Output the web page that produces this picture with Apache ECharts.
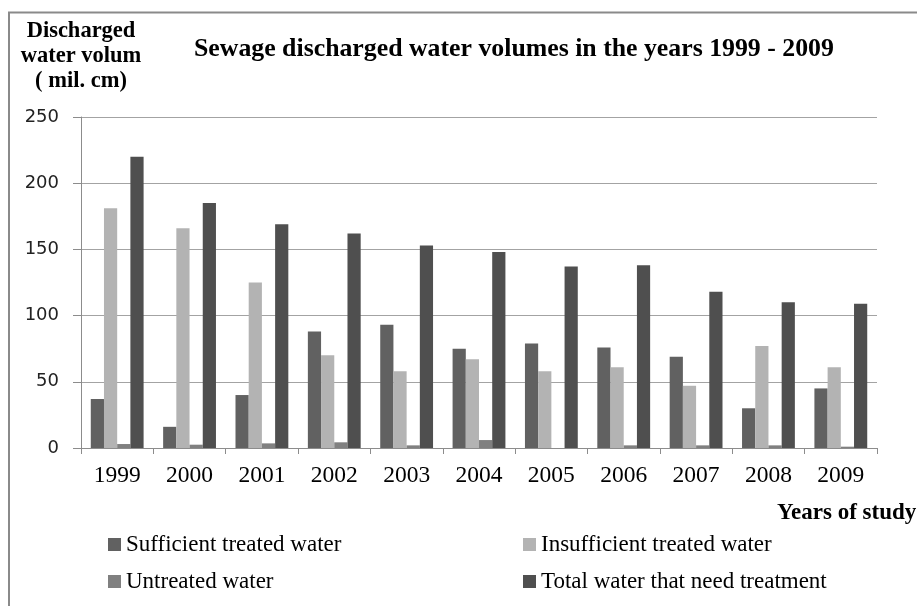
<!DOCTYPE html>
<html>
<head>
<meta charset="utf-8">
<script src="https://cdn.jsdelivr.net/npm/echarts@6/dist/echarts.min.js"></script>
<style>
  html, body { margin: 0; padding: 0; background: #fff; }
  #chart { width: 917px; height: 606px; }
</style>
</head>
<body>
<div id="chart"></div>
<script>
// Years of the study
const years = ['1999', '2000', '2001', '2002', '2003', '2004', '2005', '2006', '2007', '2008', '2009'];

// Discharged water volumes (mil. cm)
const sufficientTreated   = [37, 16, 40, 88, 93, 75, 79, 76, 69, 30, 45];
const insufficientTreated = [181, 166, 125, 70, 58, 67, 58, 61, 47, 77, 61];
const untreated           = [3, 2.5, 3.5, 4.3, 2, 6, 0, 2, 2, 2, 1];
const totalNeedTreatment  = [220, 185, 169, 162, 153, 148, 137, 138, 118, 110, 109];

// Value axis ticks
const yMin = 0, yMax = 250, yStep = 50;

const serif = '"Liberation Serif", "Times New Roman", serif';

const chart = echarts.init(document.getElementById('chart'), null, { renderer: 'canvas' });

function bar(name, data, color) {
  return {
    name: name,
    type: 'bar',
    data: data,
    barGap: '0%',
    barCategoryGap: '27%',
    itemStyle: { color: color },
    emphasis: { disabled: true },
    animation: false
  };
}

const legendText = { fontFamily: serif, fontSize: 23, color: '#000' };

chart.setOption({
  animation: false,
  backgroundColor: '#ffffff',
  title: {
    text: 'Sewage discharged water volumes in the years 1999 - 2009',
    left: 194,
    top: 36,
    padding: 0,
    textStyle: { fontFamily: serif, fontWeight: 'bold', fontSize: 25.8, color: '#000' }
  },
  graphic: [
    {
      type: 'polyline',
      silent: true,
      shape: { points: [[9, 700], [9, 12.5], [1000, 12.5]] },
      style: { stroke: '#8a8a8a', lineWidth: 2, fill: null }
    },
    {
      type: 'text',
      silent: true,
      left: 777,
      top: 502,
      style: {
        text: 'Years of study',
        font: 'bold 23px ' + serif,
        fill: '#000'
      }
    }
  ],
  legend: [
    {
      data: ['Sufficient treated water', 'Untreated water'],
      orient: 'vertical',
      left: 108,
      top: 533,
      itemGap: 14,
      itemWidth: 13,
      itemHeight: 13,
      icon: 'rect',
      padding: 0,
      selectedMode: false,
      textStyle: legendText
    },
    {
      data: ['Insufficient treated water', 'Total water that need treatment'],
      orient: 'vertical',
      left: 523,
      top: 533,
      itemGap: 14,
      itemWidth: 13,
      itemHeight: 13,
      icon: 'rect',
      padding: 0,
      selectedMode: false,
      textStyle: legendText
    }
  ],
  grid: { left: 81, right: 40, top: 117, bottom: 158, containLabel: false },
  xAxis: {
    type: 'category',
    data: years,
    axisLine: { lineStyle: { color: '#8c8c8c', width: 1 } },
    axisTick: { show: true, length: 6, lineStyle: { color: '#8c8c8c' } },
    axisLabel: { fontFamily: serif, fontSize: 23.5, color: '#000', margin: 16 },
    splitLine: { show: false }
  },
  yAxis: {
    type: 'value',
    min: yMin,
    max: yMax,
    interval: yStep,
    name: 'Discharged\nwater volum\n( mil. cm)',
    nameLocation: 'end',
    nameGap: 23,
    nameTextStyle: {
      fontFamily: serif, fontWeight: 'bold', fontSize: 22.5, lineHeight: 25,
      color: '#000', align: 'center', verticalAlign: 'bottom'
    },
    axisLine: { show: true, lineStyle: { color: '#8c8c8c', width: 1 } },
    axisTick: { show: true, length: 8, lineStyle: { color: '#8c8c8c' } },
    axisLabel: { fontFamily: '"DejaVu Sans", sans-serif', fontSize: 18, color: '#222', margin: 22 },
    splitLine: { show: true, lineStyle: { color: '#a3a3a3', width: 1 } }
  },
  series: [
    bar('Sufficient treated water', sufficientTreated, '#616161'),
    bar('Insufficient treated water', insufficientTreated, '#b3b3b3'),
    bar('Untreated water', untreated, '#808080'),
    bar('Total water that need treatment', totalNeedTreatment, '#4f4f4f')
  ]
});
</script>
</body>
</html>
